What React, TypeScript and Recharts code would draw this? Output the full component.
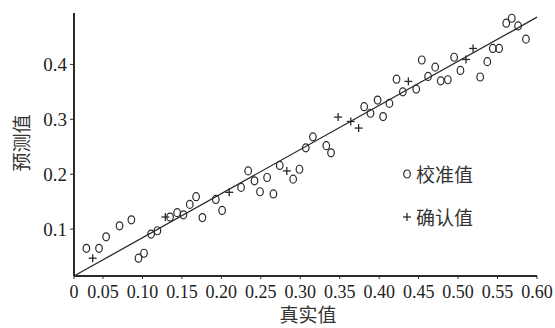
import React from "react";
import {
  ScatterChart,
  Scatter,
  XAxis,
  YAxis,
} from "recharts";

// 校准值 (calibration) points
const calibTrue = [
  0.029, 0.045, 0.054, 0.071, 0.086, 0.095, 0.102, 0.111, 0.119, 0.135,
  0.144, 0.152, 0.16, 0.168, 0.176, 0.193, 0.201, 0.225, 0.234, 0.242,
  0.249, 0.258, 0.266, 0.274, 0.291, 0.299, 0.307, 0.316, 0.333, 0.339,
  0.381, 0.389, 0.398, 0.405, 0.413, 0.422, 0.43, 0.447, 0.454, 0.462,
  0.471, 0.478, 0.487, 0.495, 0.503, 0.528, 0.537, 0.544, 0.552, 0.561,
  0.568, 0.576, 0.586,
];
const calibPred = [
  0.065, 0.065, 0.086, 0.106, 0.117, 0.047, 0.056, 0.091, 0.097, 0.122,
  0.13, 0.126, 0.145, 0.159, 0.121, 0.154, 0.134, 0.176, 0.206, 0.188,
  0.168, 0.194, 0.164, 0.216, 0.191, 0.209, 0.248, 0.268, 0.252, 0.239,
  0.323, 0.311, 0.335, 0.305, 0.329, 0.373, 0.35, 0.355, 0.408, 0.378,
  0.395, 0.37, 0.372, 0.413, 0.389, 0.377, 0.405, 0.429, 0.429, 0.475,
  0.484, 0.47, 0.446,
];

// 确认值 (validation) points
const confirmTrue = [0.037, 0.129, 0.21, 0.283, 0.348, 0.364, 0.374, 0.437, 0.51, 0.519];
const confirmPred = [0.047, 0.122, 0.167, 0.206, 0.304, 0.296, 0.284, 0.369, 0.409, 0.429];

// fitted line end points
const fitTrue = [0.0133, 0.6];
const fitPred = [0.0146, 0.486];

const xTicks = [0.0133, 0.05, 0.1, 0.15, 0.2, 0.25, 0.3, 0.35, 0.4, 0.45, 0.5, 0.55, 0.6];
const yTicks = [0.1, 0.2, 0.3, 0.4];
const yMinorTicks = [
  0.02, 0.04, 0.06, 0.08, 0.12, 0.14, 0.16, 0.18, 0.22, 0.24, 0.26, 0.28,
  0.32, 0.34, 0.36, 0.38, 0.42, 0.44, 0.46, 0.48,
];

const calibData = calibTrue.map((x, i) => ({ x, y: calibPred[i] }));
const confirmData = confirmTrue.map((x, i) => ({ x, y: confirmPred[i] }));
const fitData = fitTrue.map((x, i) => ({ x, y: fitPred[i] }));

const ink = "#2a2a2a";
const serif = "'Liberation Serif', 'DejaVu Serif', serif";
const cjk = "'Noto Sans CJK SC', sans-serif";

function CircleMark({ cx, cy }: any) {
  return <ellipse cx={cx} cy={cy} rx={3.3} ry={4} fill="none" stroke={ink} strokeWidth={1.2} />;
}

function PlusMark({ cx, cy }: any) {
  return (
    <g stroke={ink} strokeWidth={1.3}>
      <line x1={cx - 4} y1={cy} x2={cx + 4} y2={cy} />
      <line x1={cx} y1={cy - 4} x2={cx} y2={cy + 4} />
    </g>
  );
}

function LegendBox() {
  const row = { display: "flex", alignItems: "center", height: 24, marginBottom: 19 };
  return (
    <div
      style={{
        position: "absolute",
        left: 400,
        top: 162,
        fontFamily: cjk,
        fontSize: 19,
        color: "#333",
        lineHeight: "24px",
      }}
    >
      <div style={row}>
        <svg width={14} height={14} style={{ marginRight: 2 }}>
          <ellipse cx={7} cy={7} rx={3.3} ry={4} fill="none" stroke={ink} strokeWidth={1.2} />
        </svg>
        <span>校准值</span>
      </div>
      <div style={row}>
        <svg width={14} height={14} style={{ marginRight: 2 }}>
          <g stroke={ink} strokeWidth={1.3}>
            <line x1={3} y1={7} x2={11} y2={7} />
            <line x1={7} y1={3} x2={7} y2={11} />
          </g>
        </svg>
        <span>确认值</span>
      </div>
    </div>
  );
}

export default function App() {
  return (
    <div
      style={{
        position: "absolute",
        left: 0,
        top: 0,
        width: 555,
        height: 328,
        background: "#fff",
      }}
    >
      <ScatterChart width={555} height={328} margin={{ top: 13, right: 18, left: 0, bottom: 0 }}>
        <XAxis
          type="number"
          dataKey="x"
          domain={[0.0133, 0.6]}
          ticks={xTicks}
          tickFormatter={(v: number) => (v < 0.02 ? "0" : v.toFixed(2))}
          interval={0}
          height={52}
          tickSize={3}
          tickMargin={6}
          axisLine={{ stroke: ink, strokeWidth: 2 }}
          tickLine={{ stroke: ink }}
          tick={{ fontSize: 18, fill: "#222", fontFamily: serif }}
        />
        <YAxis
          type="number"
          dataKey="y"
          domain={[0.0146, 0.4936]}
          ticks={yTicks}
          tickFormatter={(v: number) => v.toFixed(1)}
          width={74}
          tickSize={4}
          tickMargin={3}
          axisLine={{ stroke: ink, strokeWidth: 2 }}
          tickLine={{ stroke: ink }}
          tick={{ fontSize: 19, fill: "#222", fontFamily: serif }}
        />
        <YAxis
          yAxisId="minor"
          type="number"
          dataKey="y"
          domain={[0.0146, 0.4936]}
          ticks={yMinorTicks}
          tickFormatter={() => ""}
          width={0}
          tickSize={2}
          axisLine={false}
          tickLine={{ stroke: ink }}
          orientation="left"
        />
        <Scatter
          data={fitData}
          line={{ stroke: ink, strokeWidth: 1.3 }}
          shape={() => <g />}
          isAnimationActive={false}
        />
        <Scatter data={calibData} shape={<CircleMark />} isAnimationActive={false} />
        <Scatter data={confirmData} shape={<PlusMark />} isAnimationActive={false} />
      </ScatterChart>
      <LegendBox />
      <div
        style={{
          position: "absolute",
          left: 258,
          top: 304,
          width: 100,
          textAlign: "center",
          fontFamily: cjk,
          fontSize: 19,
          lineHeight: "20px",
          color: "#333",
        }}
      >
        真实值
      </div>
      <div
        style={{
          position: "absolute",
          left: 21,
          top: 143,
          transform: "translate(-50%, -50%) rotate(-90deg)",
          fontFamily: cjk,
          fontSize: 19,
          lineHeight: "20px",
          color: "#333",
          whiteSpace: "nowrap",
        }}
      >
        预测值
      </div>
    </div>
  );
}
